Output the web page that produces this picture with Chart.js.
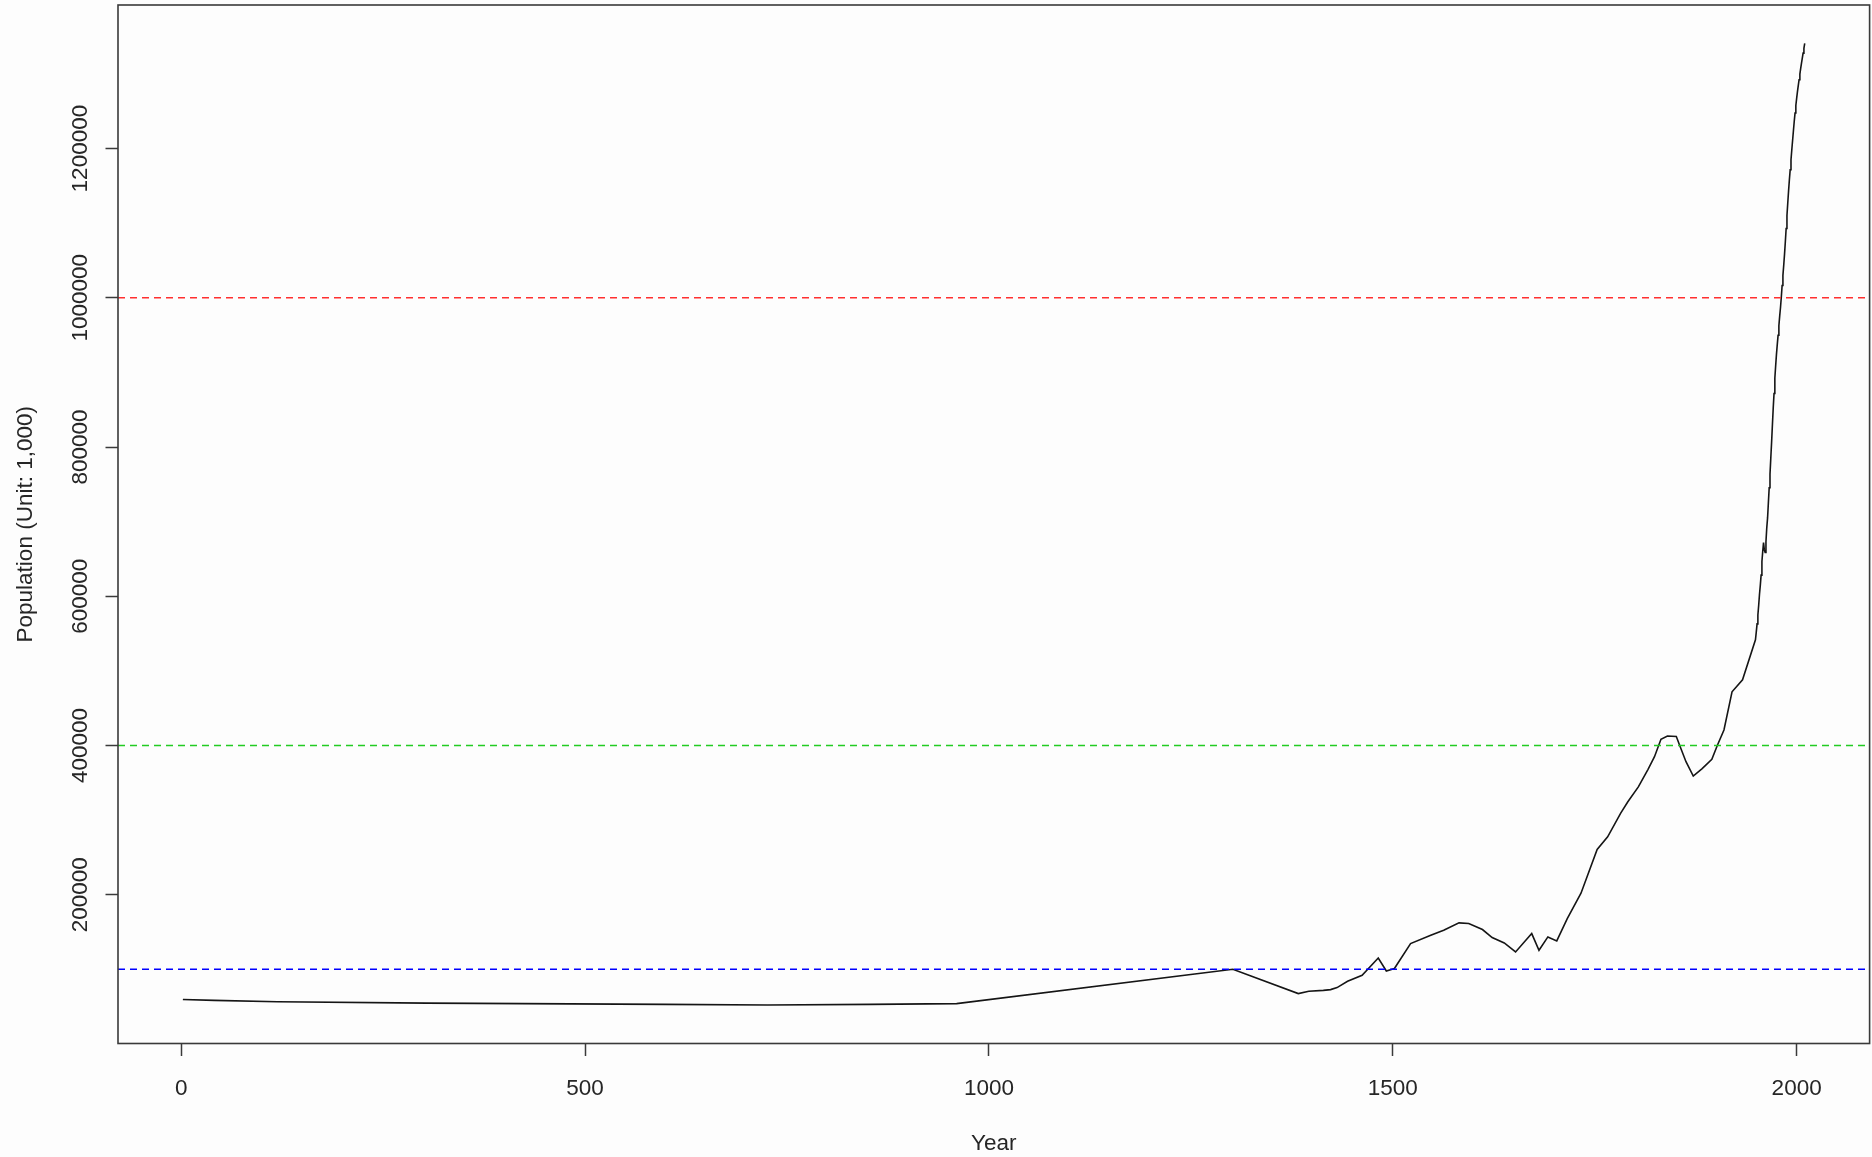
<!DOCTYPE html>
<html>
<head>
<meta charset="utf-8">
<title>Population of China, 2 AD - 2010</title>
<script src="https://cdn.jsdelivr.net/npm/chart.js@4.4.1/dist/chart.umd.min.js"></script>
<style>
  html, body { margin: 0; padding: 0; background: #fdfdfd; }
  #wrap { width: 1872px; height: 1157px; }
  canvas { display: block; }
</style>
</head>
<body>
<div id="wrap"><canvas id="c" width="1872" height="1157"></canvas></div>
<script>
// Year of each observation
const years = [
  2, 41, 119, 304, 599, 726, 853, 960,
  1302, 1383, 1396, 1414, 1423, 1431, 1444, 1462, 1482, 1492, 1502, 1522,
  1547, 1563, 1582, 1594, 1611, 1623, 1638, 1652, 1672, 1681, 1692, 1703,
  1716, 1733, 1753, 1766, 1782, 1791, 1804, 1816, 1824, 1832, 1840, 1851,
  1855, 1863, 1872, 1883, 1895, 1902, 1910, 1920, 1933,
  1949, 1950, 1951, 1952, 1953, 1954, 1955, 1956, 1957, 1958, 1959,
  1960, 1961, 1962, 1963, 1964, 1965, 1966, 1967, 1968, 1969,
  1970, 1971, 1972, 1973, 1974, 1975, 1976, 1977, 1978, 1979,
  1980, 1981, 1982, 1983, 1984, 1985, 1986, 1987, 1988, 1989,
  1990, 1991, 1992, 1993, 1994, 1995, 1996, 1997, 1998, 1999,
  2000, 2001, 2002, 2003, 2004, 2005, 2006, 2007, 2008, 2009, 2010
];

// Population in thousands
const population = [
  59600, 58300, 56500, 54700, 52950, 52100, 52950, 54000,
  100000, 67400, 70500, 71800, 72800, 75500, 84000, 92000, 115200, 97700, 101000, 134500,
  145600, 152400, 162200, 161300, 153300, 142600, 135300, 123300, 147900, 125500, 143400, 138000,
  168000, 202000, 260600, 277600, 309000, 324500, 344500, 368000, 384900, 408300, 412700, 412000,
  400600, 378200, 359000, 369000, 381500, 400600, 420700, 472000, 488000,
  541670, 551960, 563000, 574820, 587960, 602660, 614650, 628280, 646530, 659940, 672070,
  662070, 658590, 672950, 691720, 704990, 725380, 745420, 763680, 785340, 806710,
  829920, 852290, 871770, 892110, 908590, 924200, 937170, 949740, 962590, 975420,
  987050, 1000720, 1016540, 1030080, 1043570, 1058510, 1075070, 1093000, 1110260, 1127040,
  1143330, 1158230, 1171710, 1185170, 1198500, 1211210, 1223890, 1236260, 1247610, 1257860,
  1267430, 1276270, 1284530, 1292270, 1299880, 1307560, 1314480, 1321290, 1328020, 1334500, 1340910
];

// Horizontal reference levels (thousands)
const refLevels = [1000000, 400000, 100000];

// Axis tick positions
const xTickValues = [0, 500, 1000, 1500, 2000];
const yTickValues = [200000, 400000, 600000, 800000, 1000000, 1200000];

const xTitle = 'Year';
const yTitle = 'Population (Unit: 1,000)';

// ---- styling ----
const refColors = ['#ff3030', '#22cc22', '#0000ff'];
const FONT = { family: '"Liberation Sans", Arial, Helvetica, sans-serif', size: 22.5 };
const INK = '#262626';
const FRAME = '#3a3a3a';

// Axis limits padded by 4% of the data range on each side
function padRange(arr) {
  const lo = Math.min(...arr), hi = Math.max(...arr);
  const d = (hi - lo) * 0.04;
  return [lo - d, hi + d];
}
const [xMin, xMax] = padRange(years);
const [yMin, yMax] = padRange(population);

const popPoints = years.map((y, i) => ({ x: y, y: population[i] }));

const refDatasets = refLevels.map((lvl, i) => ({
  data: [{ x: xMin, y: lvl }, { x: xMax, y: lvl }],
  borderColor: refColors[i],
  borderWidth: 1.6,
  borderDash: [7, 5],
  pointRadius: 0,
  tension: 0,
  fill: false
}));

// Full rectangular frame around the plotting region
const framePlugin = {
  id: 'frame',
  afterDraw(chart) {
    const { ctx, chartArea: a } = chart;
    ctx.save();
    ctx.strokeStyle = FRAME;
    ctx.lineWidth = 1.6;
    ctx.strokeRect(a.left, a.top, a.right - a.left, a.bottom - a.top);
    ctx.restore();
  }
};

const bgPlugin = {
  id: 'bg',
  beforeDraw(chart) {
    const { ctx, width, height } = chart;
    ctx.save();
    ctx.fillStyle = '#fdfdfd';
    ctx.fillRect(0, 0, width, height);
    ctx.restore();
  }
};

new Chart(document.getElementById('c'), {
  type: 'line',
  data: {
    datasets: [
      ...refDatasets,
      {
        data: popPoints,
        borderColor: '#151515',
        borderWidth: 1.6,
        pointRadius: 0,
        tension: 0,
        fill: false
      }
    ]
  },
  options: {
    responsive: false,
    animation: false,
    events: [],
    layout: { padding: { top: 5, right: 2.4, bottom: 0, left: 0 } },
    plugins: { legend: { display: false }, tooltip: { enabled: false } },
    scales: {
      x: {
        type: 'linear',
        min: xMin,
        max: xMax,
        afterBuildTicks: s => { s.ticks = xTickValues.map(v => ({ value: v })); },
        afterFit: s => { s.height = 113.5; },
        ticks: {
          autoSkip: false,
          maxRotation: 0,
          padding: 19,
          color: INK,
          font: FONT,
          callback: v => String(v)
        },
        grid: {
          display: true,
          drawOnChartArea: false,
          drawTicks: true,
          tickLength: 12.5,
          tickColor: FRAME,
          tickWidth: 1.5
        },
        border: { display: false },
        title: {
          display: true,
          text: xTitle,
          color: INK,
          font: FONT,
          padding: { top: 0, bottom: 0 }
        }
      },
      y: {
        type: 'linear',
        min: yMin,
        max: yMax,
        afterBuildTicks: s => { s.ticks = yTickValues.map(v => ({ value: v })); },
        afterFit: s => { s.width = 118; },
        ticks: {
          autoSkip: false,
          minRotation: 90,
          maxRotation: 90,
          crossAlign: 'center',
          padding: -19,
          color: INK,
          font: FONT,
          callback: v => String(v)
        },
        grid: {
          display: true,
          drawOnChartArea: false,
          drawTicks: true,
          tickLength: 12.5,
          tickColor: FRAME,
          tickWidth: 1.5
        },
        border: { display: false },
        title: {
          display: true,
          text: yTitle,
          color: INK,
          font: FONT,
          padding: { top: 12.5, bottom: 0 }
        }
      }
    }
  },
  plugins: [bgPlugin, framePlugin]
});
</script>
</body>
</html>
